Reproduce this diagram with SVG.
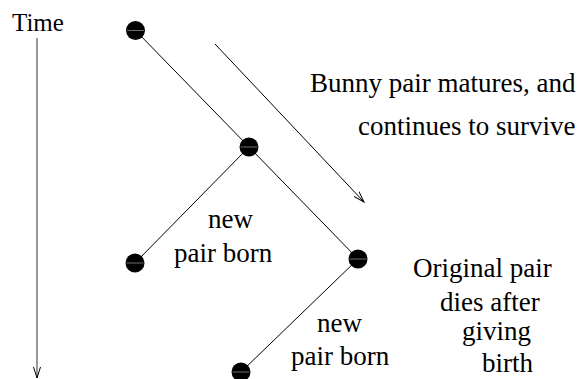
<svg xmlns="http://www.w3.org/2000/svg" width="582" height="379" viewBox="0 0 582 379">
  <defs>
    <marker id="vee" viewBox="0 0 12 8" refX="11" refY="4" markerWidth="12" markerHeight="8" markerUnits="userSpaceOnUse" orient="auto">
      <path d="M0,0.5 L11,4 L0,7.5" fill="none" stroke="#000" stroke-width="1"/>
    </marker>
  </defs>
  <style>
    .lbl { font-family: "Liberation Serif", "Times New Roman", serif; font-size: 27px; fill: #000; }
    .edge { stroke: #000; stroke-width: 1; fill: none; }
    .dot { fill: #000; }
    .seam { stroke: #8a8a8a; stroke-width: 0.8; }
  </style>
  <rect width="582" height="379" fill="#fff"/>

  <!-- time axis -->
  <g id="time-axis">
    <text class="lbl" x="12" y="31" style="font-size:25px">Time</text>
    <line x1="37" y1="38" x2="37" y2="378" stroke="#555" stroke-width="1.2" marker-end="url(#vee)"/>
  </g>

  <!-- connectors -->
  <g id="connectors">
    <line class="edge" x1="135.5" y1="30.5" x2="249" y2="147"/>
    <line class="edge" x1="249" y1="147" x2="358" y2="259"/>
    <line class="edge" x1="249" y1="147" x2="135" y2="263"/>
    <line class="edge" x1="358" y1="259" x2="241" y2="372"/>
    <line class="edge" x1="215" y1="44" x2="364" y2="202" marker-end="url(#vee)"/>
  </g>

  <!-- nodes -->
  <g id="n1"><circle class="dot" cx="135.5" cy="30.5" r="9.5"/><line class="seam" x1="127" y1="30.5" x2="144" y2="30.5"/></g>
  <g id="n2"><circle class="dot" cx="249" cy="147" r="9.5"/><line class="seam" x1="240.5" y1="147" x2="257.5" y2="147"/></g>
  <g id="n3"><circle class="dot" cx="135" cy="263" r="9.5"/><line class="seam" x1="126.5" y1="263" x2="143.5" y2="263"/></g>
  <g id="n4"><circle class="dot" cx="358" cy="259" r="9.5"/><line class="seam" x1="349.5" y1="259" x2="366.5" y2="259"/></g>
  <g id="n5"><circle class="dot" cx="241" cy="372" r="9.5"/><line class="seam" x1="232.5" y1="372" x2="249.5" y2="372"/></g>

  <!-- labels -->
  <g id="labels">
    <text class="lbl" x="310" y="92">Bunny pair matures, and</text>
    <text class="lbl" x="358" y="135">continues to survive</text>
    <text class="lbl" x="208" y="228">new</text>
    <text class="lbl" x="174" y="262">pair born</text>
    <text class="lbl" x="317" y="332">new</text>
    <text class="lbl" x="291" y="365">pair born</text>
    <text class="lbl" x="413" y="277">Original pair</text>
    <text class="lbl" x="440" y="311">dies after</text>
    <text class="lbl" x="462" y="340">giving</text>
    <text class="lbl" x="482" y="372">birth</text>
  </g>
</svg>
